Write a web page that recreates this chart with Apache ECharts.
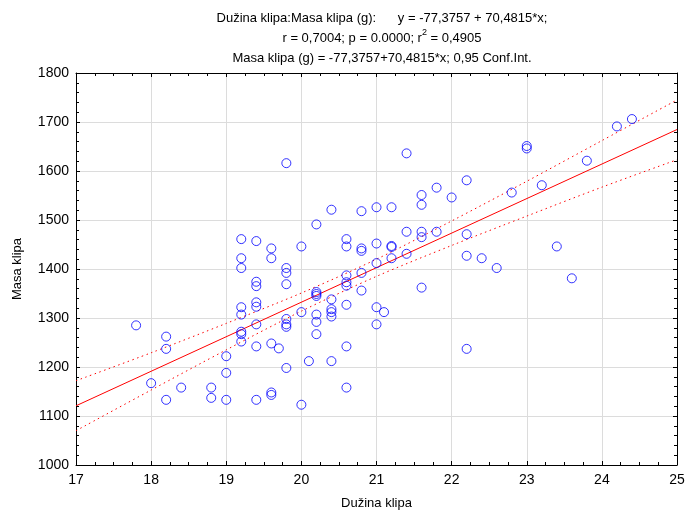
<!DOCTYPE html>
<html>
<head>
<meta charset="utf-8">
<script src="https://cdn.jsdelivr.net/npm/echarts@6/dist/echarts.min.js"></script>
<style>
  html, body { margin: 0; padding: 0; background: #fff; }
  #chart { width: 688px; height: 515px; }
</style>
</head>
<body>
<div id="chart"></div>
<script>
// Dužina klipa (x) vs Masa klipa (y)
const duzina = [
  17.8, 18.2, 18.2, 18.0, 18.2, 18.4, 18.8, 18.8, 19.0, 19.0,
  19.0, 19.2, 19.2, 19.2, 19.2, 19.2, 19.4, 19.4, 19.4, 19.4,
  19.4, 19.4, 19.4, 19.6, 19.6, 19.6, 19.7, 19.8, 19.2, 19.4,
  19.6, 19.2, 19.6, 19.2, 19.8, 19.8, 19.8, 20.0, 20.2, 20.4,
  20.6, 20.6, 20.8, 20.8, 20.8, 21.0, 21.0, 21.0, 20.6, 20.8,
  20.6, 20.6, 19.8, 19.8, 19.8, 19.8, 20.0, 20.1, 20.0, 20.2,
  20.2, 20.2, 20.2, 20.2, 20.2, 20.4, 20.4, 20.4, 20.4, 20.4,
  20.6, 20.6, 20.6, 20.8, 21.0, 21.0, 21.4, 22.2, 21.8, 21.6,
  21.6, 22.0, 22.8, 23.0, 23.0, 23.2, 21.2, 21.4, 21.6, 21.6,
  21.8, 22.2, 22.2, 22.4, 22.6, 21.2, 21.2, 21.2, 21.4, 21.6,
  21.1, 22.2, 24.4, 24.2, 23.8, 23.4, 23.6
]
const masa = [
  1285, 1262, 1237, 1167, 1133, 1158, 1158, 1137, 1133, 1188,
  1222, 1322, 1307, 1272, 1267, 1252, 1374, 1365, 1332, 1323,
  1287, 1242, 1133, 1248, 1148, 1143, 1238, 1616, 1461, 1457,
  1442, 1422, 1422, 1402, 1402, 1392, 1369, 1446, 1491, 1521,
  1461, 1446, 1518, 1442, 1437, 1526, 1452, 1412, 1387, 1392,
  1373, 1366, 1298, 1287, 1282, 1198, 1312, 1212, 1123, 1353,
  1349, 1345, 1307, 1292, 1267, 1338, 1318, 1312, 1303, 1212,
  1327, 1242, 1158, 1356, 1322, 1287, 1636, 1581, 1566, 1551,
  1531, 1546, 1556, 1651, 1646, 1571, 1526, 1476, 1476, 1465,
  1476, 1471, 1427, 1422, 1402, 1447, 1445, 1422, 1431, 1362,
  1312, 1237, 1706, 1691, 1621, 1446, 1381
]

// fitted line from the title: y = -77,3757 + 70,4815*x
const intercept = -77.3757
const slope = 70.4815
const fitX = [17, 25]

// 0,95 confidence band, read at whole x values
const bandX = [17, 18, 19, 20, 21, 22, 23, 24, 25]
const bandUpper = [1172, 1229, 1289, 1351, 1420, 1498, 1579, 1662, 1745]
const bandLower = [1070, 1153, 1235, 1314, 1385, 1448, 1508, 1567, 1623]

const xTicks = [17, 18, 19, 20, 21, 22, 23, 24, 25]
const yTicks = [1000, 1100, 1200, 1300, 1400, 1500, 1600, 1700, 1800]

const chart = echarts.init(document.getElementById('chart'))

const font = 'Liberation Sans, Arial, sans-serif'
const red = '#ff0000'
const blue = '#0000ff'

const frameAxis = (extra) => Object.assign({
  type: 'value',
  axisLine: { show: true, lineStyle: { color: '#000', width: 1 } },
  axisTick: { show: true, inside: true, length: 4, lineStyle: { color: '#000' } },
  minorTick: { show: true, length: 3, lineStyle: { color: '#000' } },
  axisLabel: { show: false },
  splitLine: { show: false }
}, extra)

const option = {
  animation: false,
  backgroundColor: '#fff',
  textStyle: { fontFamily: font },
  title: {
    text: 'Dužina klipa:Masa klipa (g):      y = -77,3757 + 70,4815*x;\n' +
      'r = 0,7004; p = 0.0000; r{sup|2} = 0,4905\n' +
      'Masa klipa (g) = -77,3757+70,4815*x; 0,95 Conf.Int.',
    left: 377,
    textAlign: 'center',
    top: 3,
    textStyle: {
      fontFamily: font,
      fontSize: 13,
      fontWeight: 'normal',
      color: '#000',
      lineHeight: 20,
      rich: {
        sup: { fontSize: 9, fontFamily: font, color: '#000', verticalAlign: 'top', padding: [0, 0, 6, 0] }
      }
    }
  },
  grid: { left: 76, right: 11, top: 73, bottom: 50 },
  xAxis: [
    frameAxis({
      min: xTicks[0],
      max: xTicks[xTicks.length - 1],
      interval: 1,
      position: 'bottom',
      minorTick: { show: true, splitNumber: 4, length: 3, lineStyle: { color: '#000' } },
      axisLabel: { show: true, color: '#000', fontSize: 14, margin: 8, fontFamily: font, formatter: v => String(v) },
      splitLine: { show: true, lineStyle: { color: '#dcdcdc', width: 1 } },
      name: 'Dužina klipa',
      nameLocation: 'middle',
      nameGap: 32,
      nameTextStyle: { color: '#000', fontSize: 13, fontFamily: font }
    }),
    frameAxis({
      min: xTicks[0],
      max: xTicks[xTicks.length - 1],
      interval: 1,
      position: 'top',
      minorTick: { show: true, splitNumber: 4, length: 3, lineStyle: { color: '#000' } }
    })
  ],
  yAxis: [
    frameAxis({
      min: yTicks[0],
      max: yTicks[yTicks.length - 1],
      interval: 100,
      position: 'left',
      minorTick: { show: true, splitNumber: 5, length: 3, lineStyle: { color: '#000' } },
      axisLabel: { show: true, color: '#000', fontSize: 14, margin: 7, fontFamily: font, formatter: v => String(v) },
      splitLine: { show: true, lineStyle: { color: '#dcdcdc', width: 1 } },
      name: 'Masa klipa',
      nameLocation: 'middle',
      nameGap: 52,
      nameTextStyle: { color: '#000', fontSize: 13, fontFamily: font }
    }),
    frameAxis({
      min: yTicks[0],
      max: yTicks[yTicks.length - 1],
      interval: 100,
      position: 'right',
      minorTick: { show: true, splitNumber: 5, length: 3, lineStyle: { color: '#000' } }
    })
  ],
  series: [
    {
      name: 'Masa klipa',
      type: 'scatter',
      data: duzina.map((x, i) => [x, masa[i]]),
      symbol: 'circle',
      symbolSize: 9,
      itemStyle: { color: 'rgba(0,0,0,0)', borderColor: blue, borderWidth: 1 },
      z: 3
    },
    {
      name: 'fit',
      type: 'line',
      data: fitX.map(x => [x, intercept + slope * x]),
      symbol: 'none',
      lineStyle: { color: red, width: 1 },
      z: 2
    },
    {
      name: 'upper',
      type: 'line',
      data: bandX.map((x, i) => [x, bandUpper[i]]),
      symbol: 'none',
      smooth: 0.3,
      lineStyle: { color: red, width: 1, type: [1.5, 3.5] },
      z: 2
    },
    {
      name: 'lower',
      type: 'line',
      data: bandX.map((x, i) => [x, bandLower[i]]),
      symbol: 'none',
      smooth: 0.3,
      lineStyle: { color: red, width: 1, type: [1.5, 3.5] },
      z: 2
    }
  ]
}

chart.setOption(option)
</script>
</body>
</html>
